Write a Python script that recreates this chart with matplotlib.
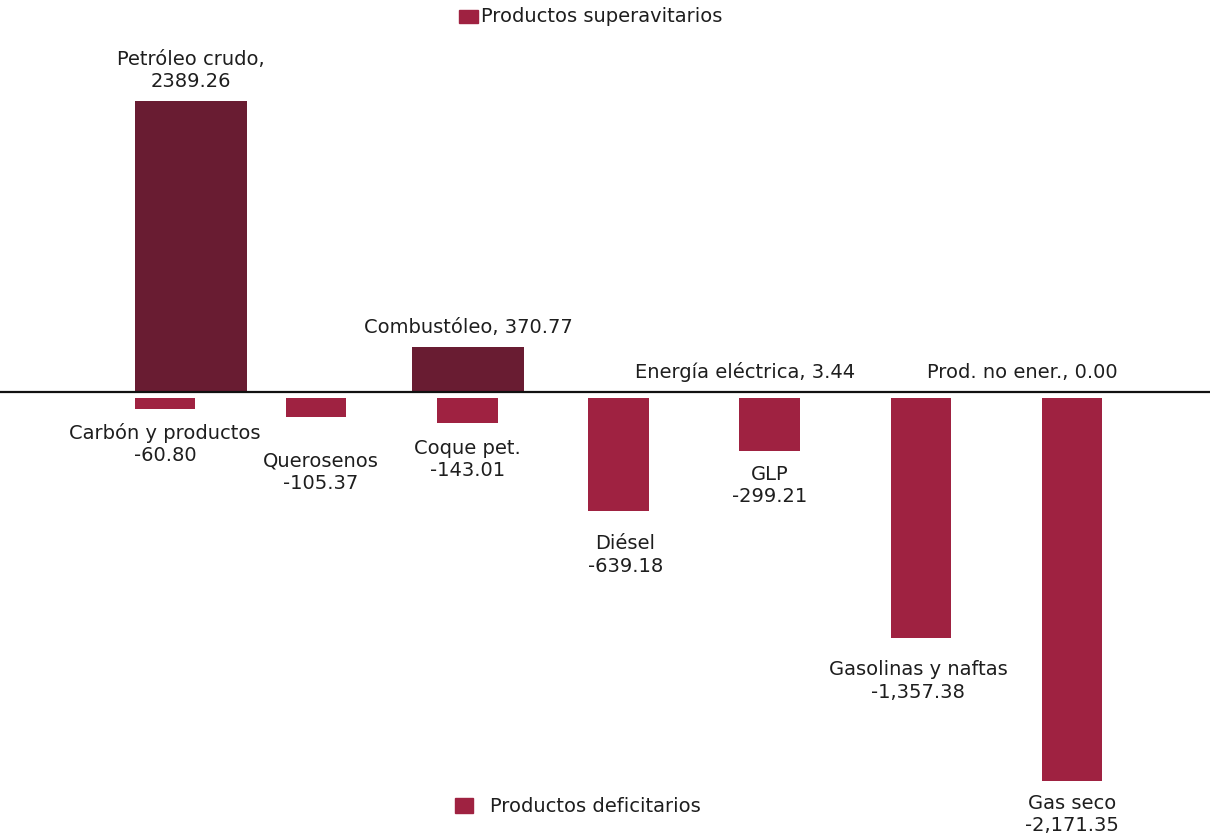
import matplotlib
matplotlib.use("Agg")
import matplotlib.pyplot as plt
from matplotlib.patches import Rectangle
from matplotlib.lines import Line2D

# Surplus products (exports exceed imports)
surplus_names = ["Petróleo crudo", "Combustóleo", "Energía eléctrica", "Prod. no ener."]
surplus_values = [2389.26, 370.77, 3.44, 0.00]
surplus_labels = ["Petróleo crudo,\n2389.26", "Combustóleo, 370.77",
                  "Energía eléctrica, 3.44", "Prod. no ener., 0.00"]

# Deficit products (imports exceed exports)
deficit_names = ["Carbón y productos", "Querosenos", "Coque pet.", "Diésel",
                 "GLP", "Gasolinas y naftas", "Gas seco"]
deficit_values = [-60.80, -105.37, -143.01, -639.18, -299.21, -1357.38, -2171.35]
deficit_labels = ["Carbón y productos\n-60.80", "Querosenos\n-105.37",
                  "Coque pet.\n-143.01", "Diésel\n-639.18", "GLP\n-299.21",
                  "Gasolinas y naftas\n-1,357.38", "Gas seco\n-2,171.35"]

SURPLUS_COLOR = "#691C32"
DEFICIT_COLOR = "#9F2241"
TEXT_COLOR = "#1e1e1e"
FS = 14

plt.rcParams["font.family"] = ["DejaVu Sans"]

W, H = 1210, 839
fig = plt.figure(figsize=(W / 100, H / 100), dpi=100)
fig.patch.set_facecolor("white")


def px_axes(left, top, right, bottom):
    return fig.add_axes([left / W, 1 - bottom / H, (right - left) / W, (bottom - top) / H])


# Upper panel: surplus bars sit on the zero line
ax_top = px_axes(52.5, 51, 1160.5, 392)
x_top = list(range(len(surplus_values)))
ax_top.bar(x_top, surplus_values, width=0.404, color=SURPLUS_COLOR)
ax_top.set_xlim(-0.5, len(surplus_values) - 0.5)
ax_top.set_ylim(0, 2800)
ax_top.axis("off")

for xi, v, lab in zip(x_top, surplus_values, surplus_labels):
    ax_top.annotate(lab, (xi, v), xytext=(0, 7), textcoords="offset points",
                    ha="center", va="bottom", fontsize=FS, color=TEXT_COLOR,
                    linespacing=1.25, annotation_clip=False)

# Lower panel: deficit bars hang just below the zero line
ax_bot = px_axes(89.5, 398, 1147.5, 821.6)
x_bot = list(range(len(deficit_values)))
ax_bot.bar(x_bot, deficit_values, width=0.40, color=DEFICIT_COLOR)
ax_bot.set_xlim(-0.5, len(deficit_values) - 0.5)
ax_bot.set_ylim(-2400, 0)
ax_bot.axis("off")

bot_pads = [10, 25, 11, 17, 10, 16, 9]
bot_dx = [0, 3, 0, 5, 0, -2, 0]
for xi, v, lab, pad, dx in zip(x_bot, deficit_values, deficit_labels, bot_pads, bot_dx):
    ax_bot.annotate(lab, (xi, v), xytext=(dx, -pad), textcoords="offset points",
                    ha="center", va="top", fontsize=FS, color=TEXT_COLOR,
                    linespacing=1.25, annotation_clip=False)

# Zero line across the full width
fig.add_artist(Line2D([0, 1], [1 - 392 / H, 1 - 392 / H], color="#111111", lw=1.6,
                      transform=fig.transFigure))

# Legend entries
fig.add_artist(Rectangle((459 / W, 1 - 23 / H), 19 / W, 13 / H, color=DEFICIT_COLOR,
                         transform=fig.transFigure))
fig.text(481 / W, 1 - 17 / H, "Productos superavitarios", ha="left", va="center",
         fontsize=FS, color=TEXT_COLOR)
fig.add_artist(Rectangle((455 / W, 1 - 813 / H), 18 / W, 15 / H, color=DEFICIT_COLOR,
                         transform=fig.transFigure))
fig.text(490 / W, 1 - 806 / H, "Productos deficitarios", ha="left", va="center",
         fontsize=FS, color=TEXT_COLOR)

fig.savefig("out.png", dpi=100, facecolor="white")
